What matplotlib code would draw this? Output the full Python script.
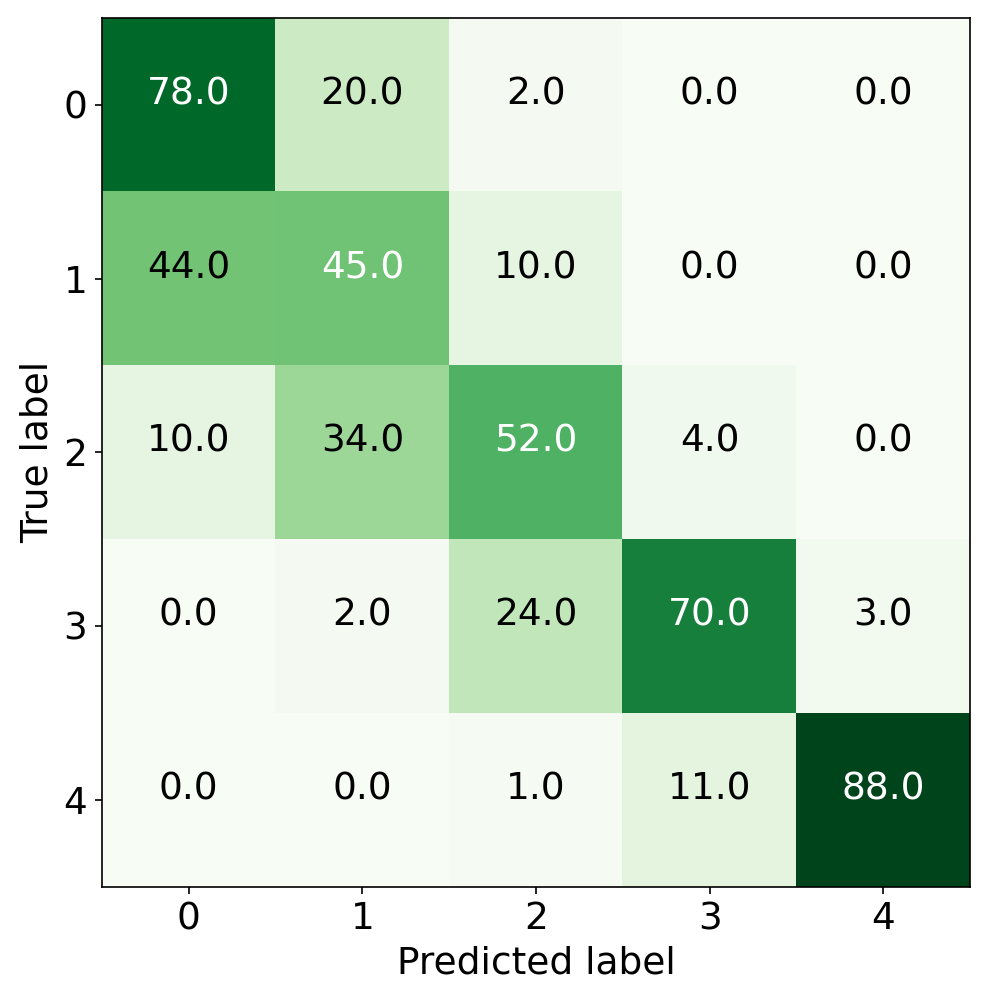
import matplotlib
matplotlib.use("Agg")
import matplotlib.pyplot as plt
import numpy as np

labels = ["0", "1", "2", "3", "4"]
row0 = [78.0, 20.0, 2.0, 0.0, 0.0]
row1 = [44.0, 45.0, 10.0, 0.0, 0.0]
row2 = [10.0, 34.0, 52.0, 4.0, 0.0]
row3 = [0.0, 2.0, 24.0, 70.0, 3.0]
row4 = [0.0, 0.0, 1.0, 11.0, 88.0]

cm = np.array([row0, row1, row2, row3, row4])

dpi = 150
fig = plt.figure(figsize=(989 / dpi, 1002 / dpi), dpi=dpi)
ax = fig.add_axes([102 / 989, 1 - 886.5 / 1002, 868 / 989, 868.5 / 1002])
ax.imshow(cm, interpolation="nearest", cmap=plt.cm.Greens, aspect="auto")

thresh = cm.max() / 2.0
for i in range(cm.shape[0]):
    for j in range(cm.shape[1]):
        ax.annotate(f"{cm[i, j]:.1f}", xy=(j, i), xytext=(0, 5),
                    textcoords="offset points", ha="center", va="center",
                    fontsize=18, color="white" if cm[i, j] > thresh else "black")

ax.set_xticks(range(len(labels)))
ax.set_yticks(range(len(labels)))
ax.set_xticklabels(labels, fontsize=18)
ax.set_yticklabels(labels, fontsize=18)
ax.set_xlabel("Predicted label", fontsize=18)
ax.set_ylabel("True label", fontsize=18)

fig.savefig("out.png", dpi=dpi)
